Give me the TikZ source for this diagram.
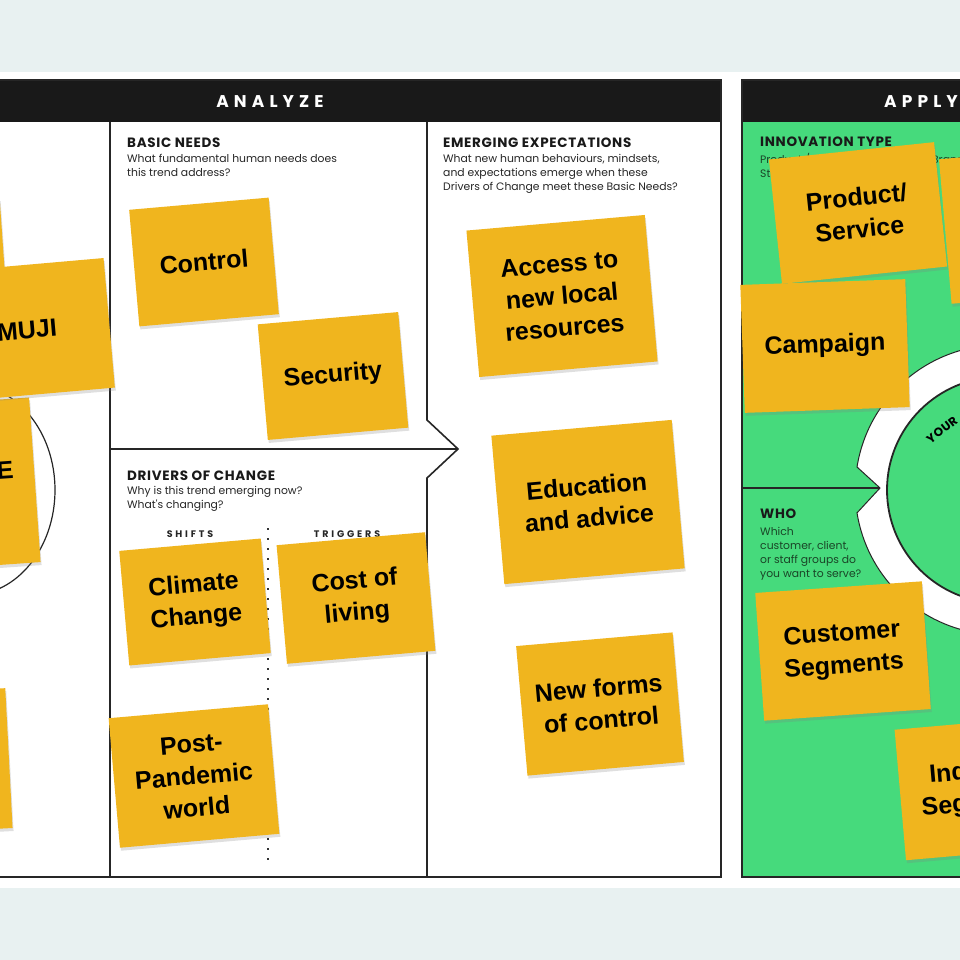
\documentclass[tikz,border=0pt]{standalone}
\usepackage{fontspec}
\usetikzlibrary{shadows}
\newfontfamily\notefont{Liberation Sans}
\newfontfamily\labelfont{Poppins}
\newfontfamily\titlefont[LetterSpace=5]{Poppins}
\newfontfamily\headfont[LetterSpace=30]{Poppins}
\definecolor{notey}{HTML}{F0B51E}
\definecolor{applygreen}{HTML}{46DA7C}
\definecolor{boardbg}{HTML}{E8F1F1}
\definecolor{subgrey}{HTML}{262626}
\definecolor{whogreen}{HTML}{1A4527}

\begin{document}
\begin{tikzpicture}[x=1pt,y=-1pt,
  note/.style={fill=notey, inner sep=0pt, align=center, text=black,
    font=\notefont\bfseries\fontsize{25}{32}\selectfont,
    drop shadow={opacity=.25, shadow xshift=1pt, shadow yshift=-3pt}},
  board/.style={line width=1.6pt, draw=black!85},
  heading/.style={font=\titlefont\bfseries\fontsize{13.5}{14}\selectfont, anchor=base west, inner sep=0pt, text=black!90},
  question/.style={font=\labelfont\fontsize{10.8}{14}\selectfont, anchor=north west, align=left, inner sep=0pt, text=subgrey},
  banner/.style={font=\headfont\bfseries\fontsize{17}{17}\selectfont, text=white, inner sep=0pt},
  column/.style={font=\headfont\bfseries\fontsize{9.5}{10}\selectfont, anchor=base, inner sep=0pt, text=subgrey}]
  \useasboundingbox (0,0) rectangle (960,960);
  \clip (0,0) rectangle (960,960);
  \fill[boardbg] (0,0) rectangle (960,960);
  \fill[white] (0,72) rectangle (960,888);

  % Analyze board
  \fill[black!90] (-5,80) rectangle (721,122);
  \node[banner, anchor=base] (analyze) at (270,108) {ANALYZE};
  \draw[board] (-5,80) -- (721,80) -- (721,877) -- (-5,877);
  \draw[board] (110,122) -- (110,877);
  \draw[board] (427,122) -- (427,420) -- (458,449) -- (427,478) -- (427,877);
  \draw[board] (110,449) -- (458,449);
  \draw[black!80, line width=1.5pt, dash pattern=on 1.5pt off 8.5pt] (268,528) -- (268,862);
  \draw[black!85, line width=1.2pt] (-30,490) ellipse (85 and 105);

  \node[heading] (needs) at (127,148) {BASIC NEEDS};
  \node[question] (needs-q) at (127,154) {What fundamental human needs does\\this trend address?};
  \node[heading] (expect) at (443,148) {EMERGING EXPECTATIONS};
  \node[question] (expect-q) at (443,154) {What new human behaviours, mindsets,\\and expectations emerge when these\\Drivers of Change meet these Basic Needs?};
  \node[heading] (drivers) at (127,480) {DRIVERS OF CHANGE};
  \node[question] (drivers-q) at (127,486) {Why is this trend emerging now?\\What's changing?};
  \node[column] (shifts) at (190,537) {SHIFTS};
  \node[column] (triggers) at (347,537) {TRIGGERS};

  % Apply board
  \fill[applygreen] (742,122) rectangle (965,877);
  \fill[black!90] (742,80) rectangle (965,122);
  \node[banner, anchor=base west] (apply) at (884,108) {APPLY};
  \draw[board] (965,80) -- (742,80) -- (742,877) -- (965,877);
  \draw[board] (742,488) -- (880,488);
  \draw[black!85, line width=1pt, fill=white] (857,467) arc[start angle=189.1, end angle=530.9, radius=145] -- (880,488) -- cycle;
  \draw[black!85, line width=1.8pt, fill=applygreen] (1000,490) circle[radius=113];
  \node[font=\titlefont\bfseries\fontsize{12}{12}\selectfont, rotate=38, inner sep=0pt] (your) at (942,430) {YOUR};

  \node[heading] (type) at (760,147) {INNOVATION TYPE};
  \node[question, text=whogreen] (type-q) at (760,153) {Product / Service / Experience / Brand\\Strategy / Process};
  \node[heading] (who) at (760,518) {WHO};
  \node[question, text=whogreen] (who-q) at (760,527) {Which\\customer, client,\\or staff groups do\\you want to serve?};

  % Notes cut off at the left edge
  \foreach \n/\x/\y/\w/\h/\r in {lefta/-68/278/146/150/4, lefte/-40/485/150/165/4, leftd/-66/762/150/140/3} {
    \node[note, minimum width=\w pt, minimum height=\h pt, rotate=\r] (\n) at (\x,\y) {};
  }
  \node[note, minimum width=165pt, minimum height=130pt, rotate=5] (muji) at (27,330) {MUJI};
  \node[font=\notefont\bfseries\fontsize{25}{32}\selectfont, rotate=4, inner sep=0pt] (e-label) at (5,470) {E};

  % Basic needs
  \node[note, minimum width=140pt, minimum height=117pt, rotate=5] (control) at (204,262) {Control};
  \node[note, minimum width=141pt, minimum height=116pt, rotate=5] (security) at (333,376) {Security};

  % Drivers of change
  \node[note, minimum width=142pt, minimum height=115pt, rotate=5] (climate) at (195,602) {Climate\\Change};
  \node[note, minimum width=149pt, minimum height=119pt, rotate=5] (cost) at (356,598) {Cost of\\living};
  \node[note, minimum width=160pt, minimum height=130pt, rotate=5] (pandemic) at (194,776) {Post-\\Pandemic\\world};

  % Emerging expectations
  \node[note, minimum width=179pt, minimum height=147pt, rotate=5] (access) at (562,296) {Access to\\new local\\resources};
  \node[note, minimum width=181pt, minimum height=149pt, rotate=5] (education) at (588,502) {Education\\and advice};
  \node[note, minimum width=157pt, minimum height=130pt, rotate=5] (newforms) at (600,704) {New forms\\of control};

  % Apply notes
  \node[note, minimum width=150pt, minimum height=145pt, rotate=5] (righta) at (1020,225) {};
  \node[note, minimum width=166pt, minimum height=125pt, rotate=6] (product) at (858,213) {Product/\\Service};
  \node[note, minimum width=165pt, minimum height=128pt, rotate=2] (campaign) at (825,346) {Campaign};
  \node[note, minimum width=167pt, minimum height=128pt, rotate=4] (customer) at (843,651) {Customer\\Segments};
  \node[note, minimum width=160pt, minimum height=131pt, rotate=5] (industry) at (980,788) {Industry\\Segments};
\end{tikzpicture}
\end{document}
